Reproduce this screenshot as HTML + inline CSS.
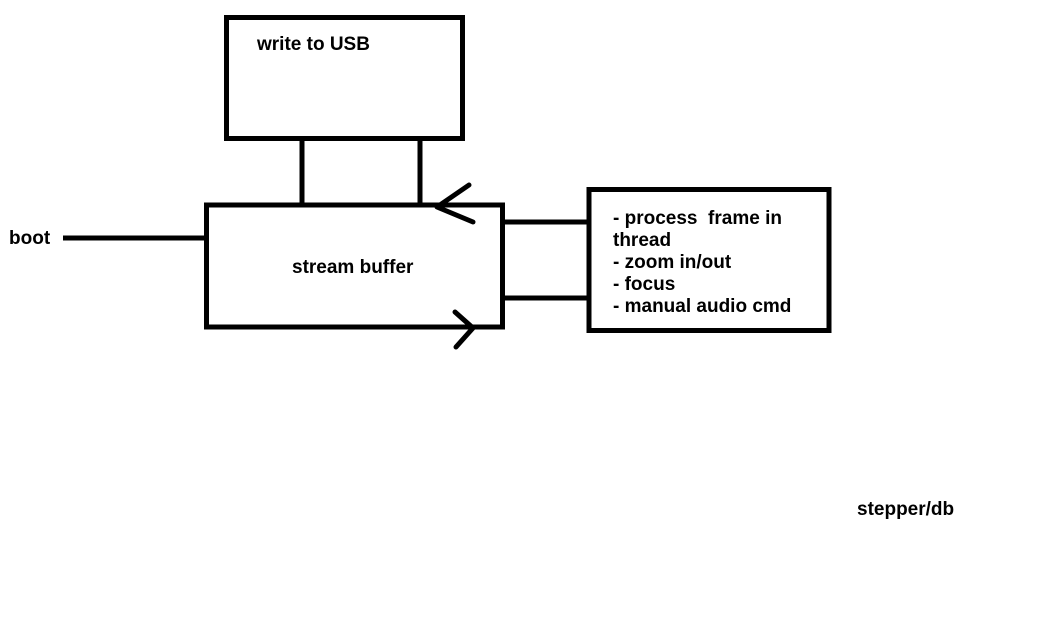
<!DOCTYPE html>
<html><head><meta charset="utf-8"><style>
html,body{margin:0;padding:0;background:#fff;}
svg{display:block;}
text{font-family:"Liberation Sans",sans-serif;font-weight:bold;font-size:19px;fill:#000;}
</style></head><body>
<svg width="1061" height="637" viewBox="0 0 1061 637" xmlns="http://www.w3.org/2000/svg">
<g fill="none" stroke="#000" stroke-width="5" stroke-linecap="butt">
<rect x="226.5" y="17.5" width="236" height="121"/>
<rect x="206.5" y="205" width="296" height="122"/>
<rect x="589" y="189.5" width="240" height="141"/>
<line x1="302" y1="139" x2="302" y2="205"/>
<line x1="420" y1="139" x2="420" y2="205"/>
<line x1="63" y1="238" x2="206" y2="238"/>
<line x1="503" y1="222" x2="589" y2="222"/>
<line x1="503" y1="298" x2="589" y2="298"/>
<polyline points="469,185 437,207 473,222" stroke-linecap="round" stroke-linejoin="round"/>
<polyline points="455,312 473,328 456,347" stroke-linecap="round" stroke-linejoin="round"/>
</g>
<text x="257" y="50">write to USB</text>
<text x="292" y="273">stream buffer</text>
<text x="9" y="244">boot</text>
<text x="613" y="224">- process&#160; frame in</text>
<text x="613" y="246">thread</text>
<text x="613" y="268">- zoom in/out</text>
<text x="613" y="290">- focus</text>
<text x="613" y="312">- manual audio cmd</text>
<text x="857" y="515">stepper/db</text>
</svg>
</body></html>
